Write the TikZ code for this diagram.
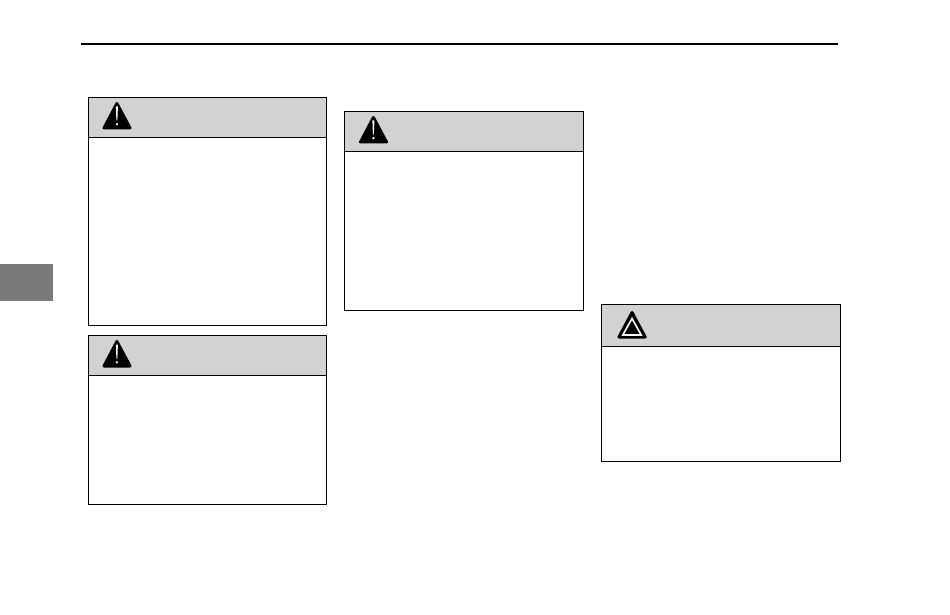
\documentclass[tikz,border=0pt]{standalone}
\tikzset{
  hdr/.style={fill=hdrgrey,draw=black,line width=1pt},
  frame/.style={draw=black,line width=1pt},
  warnblack/.style={fill=black,draw=black,line width=3pt,line join=round},
  warnwhite/.style={draw=white,line width=2pt},
  warninner/.style={fill=black,draw=white,line width=1.6pt,line join=miter},
}
\definecolor{hdrgrey}{HTML}{D2D2D2}
\definecolor{tabgrey}{HTML}{7A7A7A}
\begin{document}
\begin{tikzpicture}[x=1pt,y=-1pt]
\useasboundingbox (0,0) rectangle (950,615);
\fill[tabgrey] (0,264) rectangle (53,300.5);
\draw[black,line width=2pt] (81,43.8) -- (837.5,43.8);
% box 1
\draw[hdr] (88.5,97.5) rectangle (326.5,137.5);
\draw[frame] (88.5,137.5) rectangle (326.5,325.5);
\draw[warnblack] (116.9,103.5) -- (130,128) -- (104,128) -- cycle;
\fill[white] (115.9,106.5) -- (117.9,106.5) -- (117.4,120.5) -- (116.4,120.5) -- cycle;
\fill[white] (116.9,124.2) circle (1.3pt);
% box 2
\draw[hdr] (88.5,335.5) rectangle (326.5,375.5);
\draw[frame] (88.5,375.5) rectangle (326.5,504.5);
\draw[warnblack] (116.9,341.5) -- (130,366) -- (104,366) -- cycle;
\fill[white] (115.9,344.5) -- (117.9,344.5) -- (117.4,358.5) -- (116.4,358.5) -- cycle;
\fill[white] (116.9,362.2) circle (1.3pt);
% box 3
\draw[hdr] (344.5,111.5) rectangle (583.5,151.5);
\draw[frame] (344.5,151.5) rectangle (583.5,310.5);
\draw[warnblack] (373.4,117.5) -- (386.5,142) -- (360.5,142) -- cycle;
\fill[white] (372.4,120.5) -- (374.4,120.5) -- (373.9,134.5) -- (372.9,134.5) -- cycle;
\fill[white] (373.4,138.2) circle (1.3pt);
% box 4
\draw[hdr] (601.5,304.5) rectangle (840.5,346.5);
\draw[frame] (601.5,346.5) rectangle (840.5,461.5);
\draw[warnblack] (632,312.5) -- (645.2,337) -- (619,337) -- cycle;
\draw[warninner] (632,318.5) -- (641.2,335) -- (622.8,335) -- cycle;
\end{tikzpicture}
\end{document}
